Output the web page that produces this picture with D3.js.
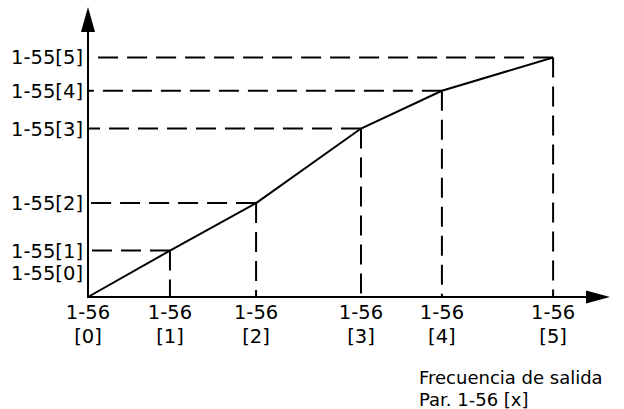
<!DOCTYPE html>
<html>
<head>
<meta charset="utf-8">
<script src="https://cdn.jsdelivr.net/npm/d3@7"></script>
<style>
  html, body { margin: 0; padding: 0; background: #fff; }
  svg { display: block; }
  text { font-family: "DejaVu Sans", Verdana, sans-serif; fill: #000; }
</style>
</head>
<body>
<svg id="chart" width="624" height="409"></svg>
<script>
// Breakpoints: output frequency (Par. 1-56[i]) vs. output (Par. 1-55[i]), in % of axis length
const indices = [0, 1, 2, 3, 4, 5];
const freqValues = [0, 15.7, 32.2, 52.3, 67.8, 89.1];
const outValues = [0, 16.0, 32.4, 58.1, 71.1, 82.6];
const xTickTop = indices.map(() => "1-56");
const xTickBottom = indices.map(i => "[" + i + "]");
const yTickLabels = indices.map(i => "1-55[" + i + "]");
const xAxisTitle = ["Frecuencia de salida", "Par. 1-56 [x]"];

const svg = d3.select("#chart");
const x0 = 88, y0 = 297, xEnd = 610, yEnd = 7;
const x = d3.scaleLinear().domain([0, 100]).range([x0, xEnd]);
const y = d3.scaleLinear().domain([0, 100]).range([y0, yEnd]);

const pts = indices.map(i => ({ i, fx: freqValues[i], oy: outValues[i] }));

// dashed guides (drawn from the point toward the axes)
const guides = svg.append("g")
  .attr("stroke", "#000").attr("stroke-width", 2)
  .attr("stroke-dasharray", "20,9").attr("fill", "none");
pts.slice(1).forEach(p => {
  guides.append("line")
    .attr("x1", x(p.fx)).attr("y1", y(p.oy))
    .attr("x2", x(0)).attr("y2", y(p.oy));
  guides.append("line")
    .attr("x1", x(p.fx)).attr("y1", y(p.oy))
    .attr("x2", x(p.fx)).attr("y2", y(0));
});

// the characteristic curve
svg.append("path")
  .datum(pts)
  .attr("fill", "none").attr("stroke", "#000").attr("stroke-width", 2)
  .attr("stroke-linejoin", "miter")
  .attr("d", d3.line().x(d => x(d.fx)).y(d => y(d.oy)));

// axes lines
svg.append("line").attr("x1", x(0)).attr("y1", y(0)).attr("x2", x(0)).attr("y2", y(100) + 20)
  .attr("stroke", "#000").attr("stroke-width", 2);
svg.append("line").attr("x1", x(0) - 1).attr("y1", y(0)).attr("x2", x(100) - 20).attr("y2", y(0))
  .attr("stroke", "#000").attr("stroke-width", 2);

// arrow heads
svg.append("path")
  .attr("d", `M${x(0)},${y(100)} L${x(0) - 7},${y(100) + 25} L${x(0) + 7},${y(100) + 25} Z`)
  .attr("fill", "#000");
svg.append("path")
  .attr("d", `M${x(100)},${y(0)} L${x(100) - 24},${y(0) - 6.5} L${x(100) - 24},${y(0) + 6.5} Z`)
  .attr("fill", "#000");

// y labels
const yl = svg.append("g").attr("font-size", "19.5px").attr("text-anchor", "end");
pts.forEach(p => {
  const yy = p.i === 0 ? y(p.oy) - 24 : y(p.oy);
  yl.append("text").attr("x", x(0) - 5).attr("y", yy).attr("dy", "0.36em").text(yTickLabels[p.i]);
});

// x labels
const xl = svg.append("g").attr("font-size", "19.5px").attr("text-anchor", "middle");
pts.forEach(p => {
  const t = xl.append("text").attr("x", x(p.fx)).attr("y", y(0) + 22);
  t.append("tspan").attr("x", x(p.fx)).text(xTickTop[p.i]);
  t.append("tspan").attr("x", x(p.fx)).attr("dy", 24).text(xTickBottom[p.i]);
});

// axis title
const tt = svg.append("text").attr("font-size", "18px").attr("x", 419).attr("y", 384);
tt.append("tspan").attr("x", 419).text(xAxisTitle[0]);
tt.append("tspan").attr("x", 419).attr("dy", 22).text(xAxisTitle[1]);
</script>
</body>
</html>
